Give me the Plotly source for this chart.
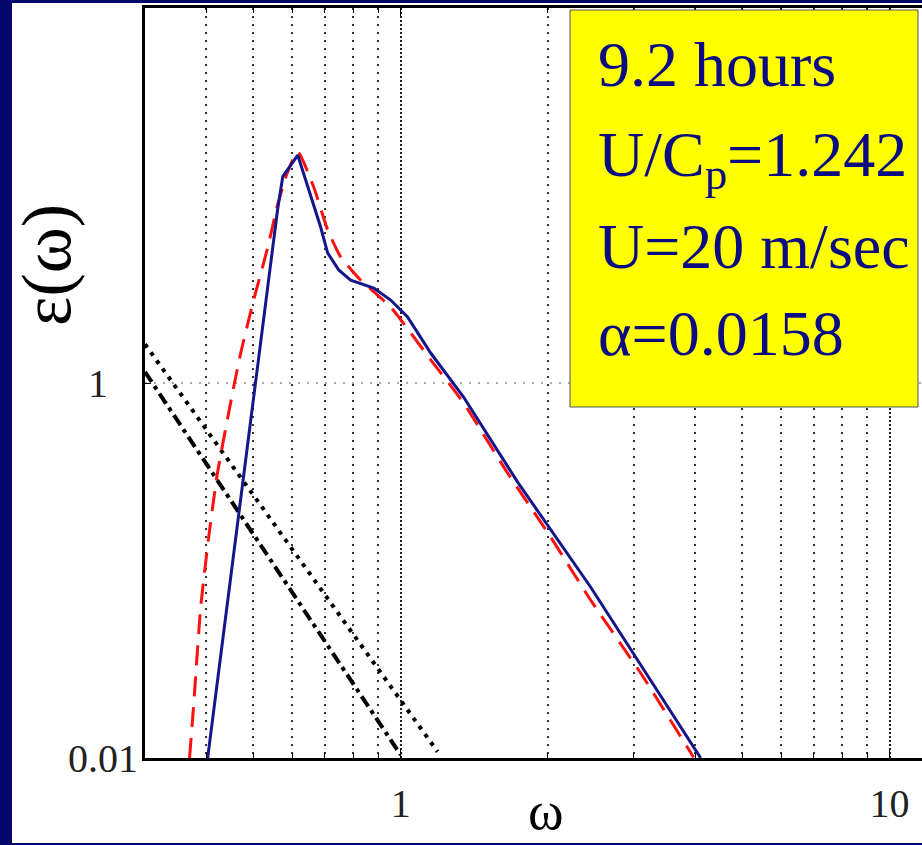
import math
import plotly.graph_objects as go

# ---- data ----
omega_meas = [0.403, 0.560, 0.574, 0.616, 0.686, 0.709, 0.747, 0.790, 0.881, 0.954,
              1.033, 1.152, 1.345, 1.735, 2.446, 3.053, 4.108]
spec_meas = [0.01, 8.37, 12.6, 16.4, 6.79, 4.94, 4.01, 3.54, 3.21, 2.77,
             2.25, 1.445, 0.842, 0.296, 0.0817, 0.0333, 0.01]

omega_fit = [0.370, 0.377, 0.390, 0.405, 0.422, 0.453, 0.471, 0.500, 0.535, 0.560, 0.587,
             0.616, 0.664, 0.709, 0.754, 0.828, 0.954, 1.152, 1.345, 1.655, 2.026, 2.446,
             3.096, 3.973]
spec_fit = [0.01, 0.0187, 0.0639, 0.151, 0.331, 0.885, 1.45, 2.75, 5.31, 8.9, 13.3,
            17.1, 11.1, 6.55, 4.70, 3.54, 2.54, 1.33, 0.782, 0.331, 0.151, 0.0696,
            0.0284, 0.0101]

omega_ref_a = [0.30, 1.19]      # dotted reference line
spec_ref_a = [1.61, 0.0108]
omega_ref_b = [0.30, 1.00]      # dash-dot reference line
spec_ref_b = [1.145, 0.0104]

x_major = [1, 10]
x_major_text = ["1", "10"]
x_minor = [0.4, 0.5, 0.6, 0.7, 0.8, 0.9, 2, 3, 4, 5, 6, 7, 8, 9]
y_ticks = [0.01, 1]
y_tick_text = ["0.01", "1&nbsp;&nbsp;&nbsp;"]

info_lines = ["9.2 hours", "U/C<sub>p</sub>=1.242", "U=20 m/sec", "α=0.0158"]

SERIF = "Liberation Serif, Times New Roman, serif"
NAVY_TEXT = "#0c0c82"

fig = go.Figure()
fig.add_trace(go.Scatter(x=omega_ref_a, y=spec_ref_a, mode="lines",
                         line=dict(color="black", width=4, dash="4px,6px")))
fig.add_trace(go.Scatter(x=omega_ref_b, y=spec_ref_b, mode="lines",
                         line=dict(color="black", width=4, dash="12px,5px,4px,5px")))
fig.add_trace(go.Scatter(x=omega_fit, y=spec_fit, mode="lines",
                         line=dict(color="#ff1010", width=3, dash="20px,11px",
                                   shape="spline", smoothing=0.5)))
fig.add_trace(go.Scatter(x=omega_meas, y=spec_meas, mode="lines",
                         line=dict(color="#15158c", width=3)))

L, R, T, B = 145, 0, 8, 87
W, H = 922, 845
pw, ph = W - L - R, H - T - B

def px_x(p):
    return (p - L) / pw

def px_y(p):
    return (H - B - p) / ph

shapes = [
    # white page inside the navy frame
    dict(type="rect", xref="paper", yref="paper", x0=px_x(12), x1=px_x(930),
         y0=px_y(843), y1=px_y(3), fillcolor="white", line=dict(width=0), layer="below"),
    # yellow info box
    dict(type="rect", xref="paper", yref="paper", x0=px_x(570), x1=px_x(918),
         y0=px_y(407), y1=px_y(10), fillcolor="#ffff00",
         line=dict(color="#555555", width=1), layer="above"),
]

annotations = []
line_centers = [65, 159, 246, 333]
for txt, cy in zip(info_lines, line_centers):
    annotations.append(dict(text=txt, xref="paper", yref="paper", x=px_x(596), y=px_y(cy),
                            xanchor="left", yanchor="middle", showarrow=False,
                            font=dict(family=SERIF, size=64, color=NAVY_TEXT)))
annotations.append(dict(text="ε(ω)", xref="paper", yref="paper", x=px_x(46), y=px_y(265),
                        xanchor="center", yanchor="middle", textangle=-90, showarrow=False,
                        font=dict(family=SERIF, size=70, color="black")))
annotations.append(dict(text="ω", xref="paper", yref="paper", x=px_x(546), y=px_y(811),
                        xanchor="center", yanchor="middle", showarrow=False,
                        font=dict(family=SERIF, size=54, color="black")))

fig.update_layout(
    width=W, height=H, margin=dict(l=L, r=R, t=T, b=B),
    paper_bgcolor="#06066b", plot_bgcolor="white", showlegend=False,
    shapes=shapes, annotations=annotations,
    xaxis=dict(type="log", range=[math.log10(0.3), math.log10(11.65)],
               tickmode="array", tickvals=x_major, ticktext=x_major_text,
               showgrid=True, gridcolor="#222222", griddash="2px,2px", gridwidth=2,
               minor=dict(tickmode="array", tickvals=x_minor, showgrid=True,
                          gridcolor="#333333", griddash="2px,6px", gridwidth=2,
                          ticks="inside", ticklen=5, tickcolor="black"),
               ticks="inside", ticklen=8, tickcolor="black",
               showline=True, linecolor="black", linewidth=3, mirror="allticks",
               ticklabelstandoff=8,
               tickfont=dict(family=SERIF, size=40, color="#222222"), zeroline=False),
    yaxis=dict(type="log", range=[-2, 2], tickmode="array", tickvals=y_ticks,
               ticktext=y_tick_text, showgrid=True, gridcolor="#aaaaaa",
               griddash="2px,7px", gridwidth=1.5,
               ticks="inside", ticklen=6, tickcolor="black",
               showline=True, linecolor="black", linewidth=3,
               ticklabelstandoff=-4,
               tickfont=dict(family=SERIF, size=40, color="#222222"), zeroline=False),
)

fig.write_html("out.html")
